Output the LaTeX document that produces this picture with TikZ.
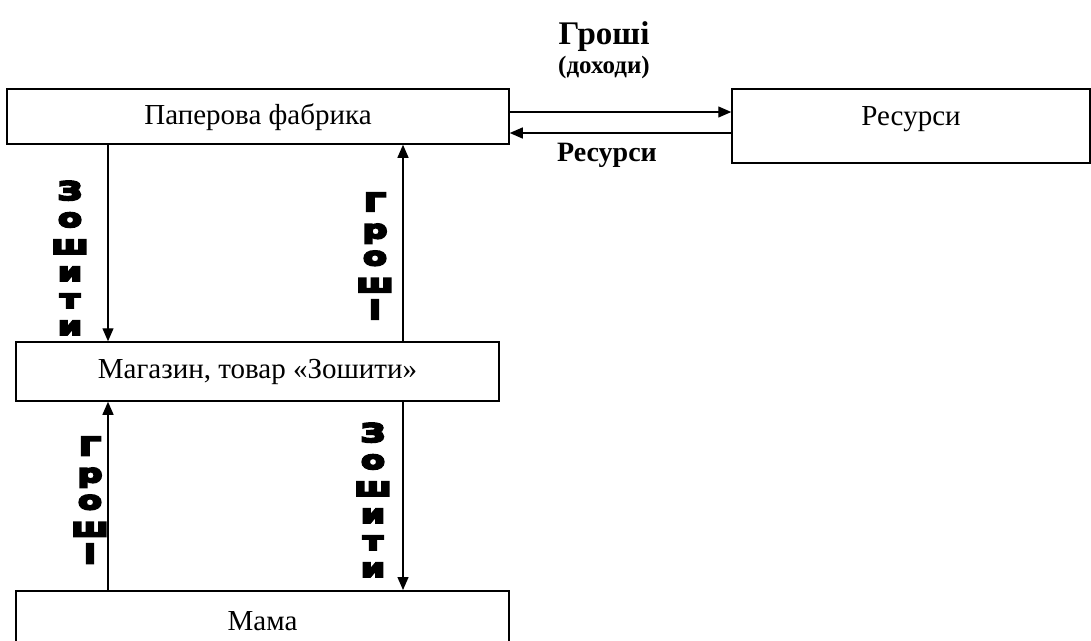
\documentclass[tikz,border=0pt]{standalone}
\usepackage{fontspec}
\setmainfont{Liberation Serif}
\newfontfamily\heavyfont[FakeBold=9, FakeStretch=1.4]{DejaVu Sans Bold}
\usetikzlibrary{arrows.meta,positioning}

\begin{document}
\begin{tikzpicture}[x=1pt, y=-1pt,
box/.style={rectangle, draw=black, line width=1.5pt, inner sep=0pt, align=center, font=\fontsize{29}{34}\selectfont},
flow/.style={-{Triangle[length=13pt, width=11pt]}, line width=1.3pt},
tag/.style={align=center, inner sep=0pt, font=\bfseries},
vtag/.style={align=center, inner sep=0pt, font=\heavyfont\fontsize{25}{27}\selectfont}]

\useasboundingbox (0,0) rectangle (1091,640);

\node[box, minimum width=502pt, minimum height=55pt, text height=35pt, text depth=20pt] (mill) at (258,116.5) {Паперова фабрика};

\node[box, minimum width=358pt, minimum height=74pt, text height=36pt, text depth=38pt] (res) at (911,126) {Ресурси};

\node[box, minimum width=483pt, minimum height=59pt] (shop) at (257.5,371.5) {Магазин, товар «Зошити»};

\node[box, minimum width=493pt, minimum height=60pt, anchor=north] (mama) at (262.5,590) {Мама};

\coordinate (mtop) at ([yshift=4.5pt]mill.east);
\coordinate (mbot) at ([yshift=-16.5pt]mill.east);
\coordinate (mleft) at ([xshift=-150pt]mill.south);
\coordinate (mright) at ([xshift=145pt]mill.south);
\coordinate (sleft) at ([xshift=-149.5pt]shop.south);
\coordinate (sright) at ([xshift=145.5pt]shop.south);

\draw[flow] (mtop) -- (mtop -| res.west);

\draw[flow] (mbot -| res.west) -- (mbot);

\draw[flow] (mleft) -- (mleft |- shop.north);

\draw[flow] (mright |- shop.north) -- (mright);

\draw[flow] (sleft |- mama.north) -- (sleft);

\draw[flow] (sright) -- (sright |- mama.north);

\node[tag, font=\bfseries\fontsize{33}{38}\selectfont] (money) at (604,37) {Гроші};
\node[tag, font=\bfseries\fontsize{25}{29}\selectfont, below=4pt of money] (income) {(доходи)};
\node[tag, font=\bfseries\fontsize{28}{32}\selectfont] (back) at (607,155) {Ресурси};

\node[vtag] (books1) at (70,258) {З\\о\\ш\\и\\т\\и};
\node[vtag] (cash1) at (375,256) {Г\\р\\о\\ш\\і};
\node[vtag] (cash2) at (90,500) {Г\\р\\о\\ш\\і};
\node[vtag] (books2) at (373,500) {З\\о\\ш\\и\\т\\и};

\end{tikzpicture}
\end{document}
